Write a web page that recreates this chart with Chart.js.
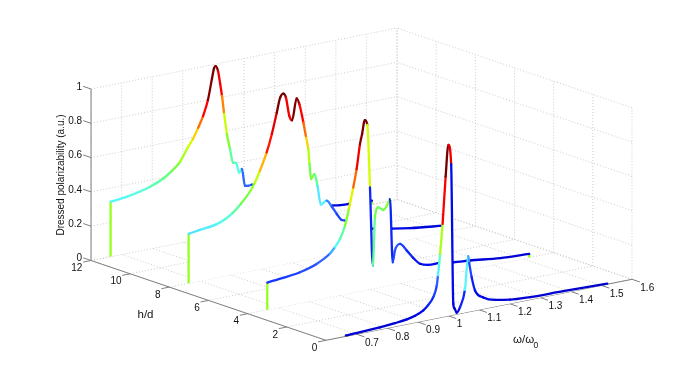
<!DOCTYPE html>
<html>
<head>
<meta charset="utf-8">
<title>Dressed polarizability</title>
<script src="https://cdn.jsdelivr.net/npm/chart.js@4/dist/chart.umd.js"></script>
<style>
  html, body { margin: 0; padding: 0; background: #fff; }
  canvas { display: block; filter: blur(0.35px); }
</style>
</head>
<body>
<canvas id="myChart" width="699" height="382"></canvas>
<script>
// axis ticks
const omegaTicks = [0.7, 0.8, 0.9, 1, 1.1, 1.2, 1.3, 1.4, 1.5, 1.6];
const omegaGrid = [0.6, 0.7, 0.8, 0.9, 1, 1.1, 1.2, 1.3, 1.4, 1.5, 1.6];
const hTicks = [0, 2, 4, 6, 8, 10, 12];
const zTicks = [0, 0.2, 0.4, 0.6, 0.8, 1];

// one curve per h/d value
const omega12 = [0.664, 0.718, 0.76, 0.793, 0.835, 0.865, 0.891, 0.914, 0.933, 0.95, 0.966, 0.982, 0.995, 1.002, 1.007, 1.015, 1.022, 1.028, 1.035, 1.044, 1.054, 1.064, 1.074, 1.084, 1.093, 1.103, 1.113, 1.126, 1.159, 1.218, 1.283, 1.348, 1.388, 1.414, 1.446, 1.518];
const pol12 = [0.32, 0.33, 0.345, 0.362, 0.393, 0.43, 0.472, 0.54, 0.59, 0.649, 0.712, 0.8, 0.918, 0.979, 0.989, 0.957, 0.879, 0.807, 0.7, 0.58, 0.49, 0.405, 0.401, 0.34, 0.359, 0.257, 0.253, 0.255, 0.18, 0.11, 0.07, 0.05, 0.04, 0.033, 0.03, 0.022];

const omega8 = [0.663, 0.7, 0.755, 0.782, 0.808, 0.834, 0.864, 0.88, 0.896, 0.918, 0.935, 0.951, 0.962, 0.973, 0.981, 0.992, 1.001, 1.016, 1.025, 1.038, 1.047, 1.054, 1.058, 1.063, 1.074, 1.084, 1.095, 1.114, 1.131, 1.147, 1.163, 1.18, 1.207, 1.262, 1.328, 1.387, 1.494, 1.517];
const pol8 = [0.288, 0.298, 0.312, 0.331, 0.36, 0.403, 0.465, 0.512, 0.573, 0.672, 0.774, 0.892, 0.976, 0.995, 0.969, 0.859, 0.83, 0.953, 0.915, 0.803, 0.713, 0.643, 0.556, 0.465, 0.49, 0.419, 0.305, 0.321, 0.28, 0.232, 0.191, 0.181, 0.148, 0.105, 0.082, 0.064, 0.04, 0.035];

const omega4 = [0.664, 0.716, 0.771, 0.825, 0.869, 0.885, 0.902, 0.918, 0.931, 0.945, 0.956, 0.967, 0.974, 0.98, 0.983, 0.991, 0.9997, 1.009, 1.016, 1.027, 1.043, 1.055, 1.065, 1.074, 1.081, 1.098, 1.12, 1.14, 1.163, 1.19, 1.228, 1.272, 1.326, 1.425, 1.52];
const pol4 = [0.159, 0.168, 0.181, 0.21, 0.255, 0.287, 0.329, 0.4, 0.495, 0.613, 0.716, 0.858, 0.916, 0.98, 0.992, 0.962, 0.594, 0.135, 0.414, 0.468, 0.447, 0.468, 0.503, 0.131, 0.197, 0.23, 0.183, 0.135, 0.091, 0.075, 0.073, 0.061, 0.052, 0.031, 0.022];

const omega0 = [0.665, 0.776, 0.825, 0.864, 0.891, 0.918, 0.933, 0.951, 0.962, 0.966, 0.97, 0.973, 0.981, 0.991, 1.0, 1.009, 1.016, 1.02, 1.027, 1.038, 1.054, 1.065, 1.068, 1.076, 1.087, 1.114, 1.152, 1.201, 1.267, 1.375, 1.519];
const pol0 = [0.005, 0.013, 0.02, 0.028, 0.039, 0.061, 0.085, 0.128, 0.191, 0.248, 0.316, 0.372, 0.543, 0.816, 0.997, 0.882, 0.065, 0.037, 0.009, 0.038, 0.133, 0.325, 0.285, 0.199, 0.117, 0.067, 0.039, 0.023, 0.015, 0.011, 0.003];

// back to front, later curves cover earlier ones
const curves = [
  { h: 12, omega: omega12, pol: pol12 },
  { h: 8, omega: omega8, pol: pol8 },
  { h: 4, omega: omega4, pol: pol4 },
  { h: 0, omega: omega0, pol: pol0 },
];

// the view of the box, pixels per data unit
const view = { x0: 326, y0: 340.3, xOmega: 306, yOmega: 61, xH: 19.58, yH: 6.65, yZ: 171.5 };
const omegaMin = 0.6, omegaMax = 1.6, hMax = 12;

function project(omega, h, z) {
  return {
    x: view.x0 + (omega - omegaMin) * view.xOmega - h * view.xH,
    y: view.y0 - (omega - omegaMin) * view.yOmega - h * view.yH - z * view.yZ,
  };
}

// colour stops
const stops = [
  [0, 0, 0, 205], [0.07, 0, 10, 235], [0.16, 20, 50, 255], [0.25, 45, 95, 255],
  [0.28, 50, 130, 255], [0.295, 80, 225, 255], [0.32, 85, 245, 255], [0.36, 90, 255, 215], [0.42, 95, 255, 140],
  [0.48, 120, 255, 50], [0.6, 215, 255, 0], [0.66, 255, 200, 0], [0.7, 255, 130, 0],
  [0.75, 255, 40, 0], [0.8, 255, 0, 0], [0.89, 235, 0, 0], [0.92, 128, 0, 0], [1, 115, 0, 0],
];

function polColor(z) {
  for (let i = 1; i < stops.length; i++) {
    if (z <= stops[i][0]) {
      const a = stops[i - 1], b = stops[i];
      const t = (z - a[0]) / (b[0] - a[0]);
      const c = [1, 2, 3].map((k) => Math.round(a[k] + (b[k] - a[k]) * t));
      return `rgb(${c[0]},${c[1]},${c[2]})`;
    }
  }
  return "rgb(115,0,0)";
}

const dropColor = "#96ff1e";
const gap = { x: NaN, y: NaN };

function gridPoints() {
  const pts = [];
  const seg = (a, b) => pts.push(project(...a), project(...b), gap);
  omegaGrid.forEach((w) => {
    seg([w, 0, 0], [w, hMax, 0]);
    seg([w, hMax, 0], [w, hMax, 1]);
  });
  hTicks.forEach((h) => {
    seg([omegaMin, h, 0], [omegaMax, h, 0]);
    seg([omegaMax, h, 0], [omegaMax, h, 1]);
  });
  zTicks.forEach((z) => {
    seg([omegaMin, hMax, z], [omegaMax, hMax, z]);
    seg([omegaMax, 0, z], [omegaMax, hMax, z]);
  });
  return pts;
}

function axisPoints() {
  const pts = [];
  const seg = (a, b) => pts.push(project(...a), project(...b), gap);
  seg([omegaMin, hMax, 0], [omegaMin, hMax, 1]);
  seg([omegaMin, 0, 0], [omegaMin, hMax, 0]);
  seg([omegaMin, 0, 0], [omegaMax, 0, 0]);
  // tick marks
  omegaTicks.forEach((w) => seg([w, 0, 0], [w, -0.4, 0]));
  hTicks.forEach((h) => seg([omegaMin, h, 0], [omegaMin - 0.026, h, 0]));
  zTicks.forEach((z) => seg([omegaMin, hMax, z], [omegaMin, hMax + 0.4, z]));
  return pts;
}

const datasets = [
  {
    data: gridPoints(), showLine: true, pointRadius: 0, spanGaps: false,
    borderColor: "#c0c0c0", borderWidth: 0.8, borderDash: [1, 2], order: 100,
  },
  {
    data: axisPoints(), showLine: true, pointRadius: 0, spanGaps: false,
    borderColor: "#7f7f7f", borderWidth: 1, order: 90,
  },
];

curves.forEach((curve, i) => {
  const n = curve.omega.length;
  const zs = curve.pol;
  const pts = curve.omega.map((w, k) => project(w, curve.h, curve.pol[k]));
  const startFoot = project(curve.omega[0], curve.h, 0);
  const endFoot = project(curve.omega[n - 1], curve.h, 0);

  // white curtain below the curve, hides what is behind it
  datasets.push({
    data: [startFoot, ...pts, endFoot], showLine: true, pointRadius: 0, borderWidth: 0,
    fill: "shape", backgroundColor: "#fff", order: 80 - i * 10,
  });
  // the two vertical ends of the curtain
  datasets.push({
    data: [startFoot, pts[0], gap, pts[n - 1], endFoot], showLine: true, pointRadius: 0, spanGaps: false,
    borderColor: dropColor, borderWidth: 2.3, order: 78 - i * 10,
  });
  datasets.push({
    data: pts, showLine: true, pointRadius: 0, borderWidth: 2.3,
    cubicInterpolationMode: "monotone",
    borderCapStyle: "round", borderJoinStyle: "round", order: 75 - i * 10,
    segment: {
      borderColor: (ctx) => polColor(zs[ctx.p1DataIndex]),
    },
  });
});

// tick labels and axis titles sit in the box's own projection
const labelsPlugin = {
  id: "boxLabels",
  afterDraw(chart) {
    const ctx = chart.ctx;
    const sx = chart.scales.x, sy = chart.scales.y;
    const put = (text, p, dx, dy) => ctx.fillText(text, sx.getPixelForValue(p.x) + dx, sy.getPixelForValue(p.y) + dy);
    ctx.save();
    ctx.fillStyle = "#111";
    ctx.font = '10px "Liberation Sans"';
    ctx.textBaseline = "middle";

    ctx.textAlign = "right";
    zTicks.forEach((z) => put(String(z), project(omegaMin, hMax, z), -9, -2));
    hTicks.forEach((h) => put(String(h), project(omegaMin, h, 0), -8.7, 7.8));

    ctx.textAlign = "left";
    omegaTicks.forEach((w) => put(String(w), project(w, 0, 0), 8.3, 8.7));

    ctx.textAlign = "center";
    ctx.font = '11.5px "Liberation Sans"';
    ctx.fillText("h/d", 145.5, 315);
    ctx.textAlign = "left";
    ctx.fillText("\u03c9/\u03c9", 513, 340);
    ctx.font = '8.5px "Liberation Sans"';
    ctx.fillText("0", 533.5, 346);

    ctx.font = '10px "Liberation Sans"';
    ctx.textAlign = "center";
    ctx.translate(61, 175);
    ctx.rotate(-Math.PI / 2);
    ctx.fillText("Dressed polarizability (a.u.)", 0, 0);
    ctx.restore();
  },
};

const myChart = new Chart(document.getElementById("myChart").getContext("2d"), {
  type: "scatter",
  data: { datasets: datasets },
  options: {
    responsive: false,
    animation: false,
    layout: { padding: 0 },
    plugins: { legend: { display: false }, tooltip: { enabled: false } },
    scales: {
      x: { type: "linear", min: 0, max: 699, display: false },
      y: { type: "linear", min: 0, max: 382, reverse: true, display: false },
    },
  },
  plugins: [labelsPlugin],
});
</script>
</body>
</html>
